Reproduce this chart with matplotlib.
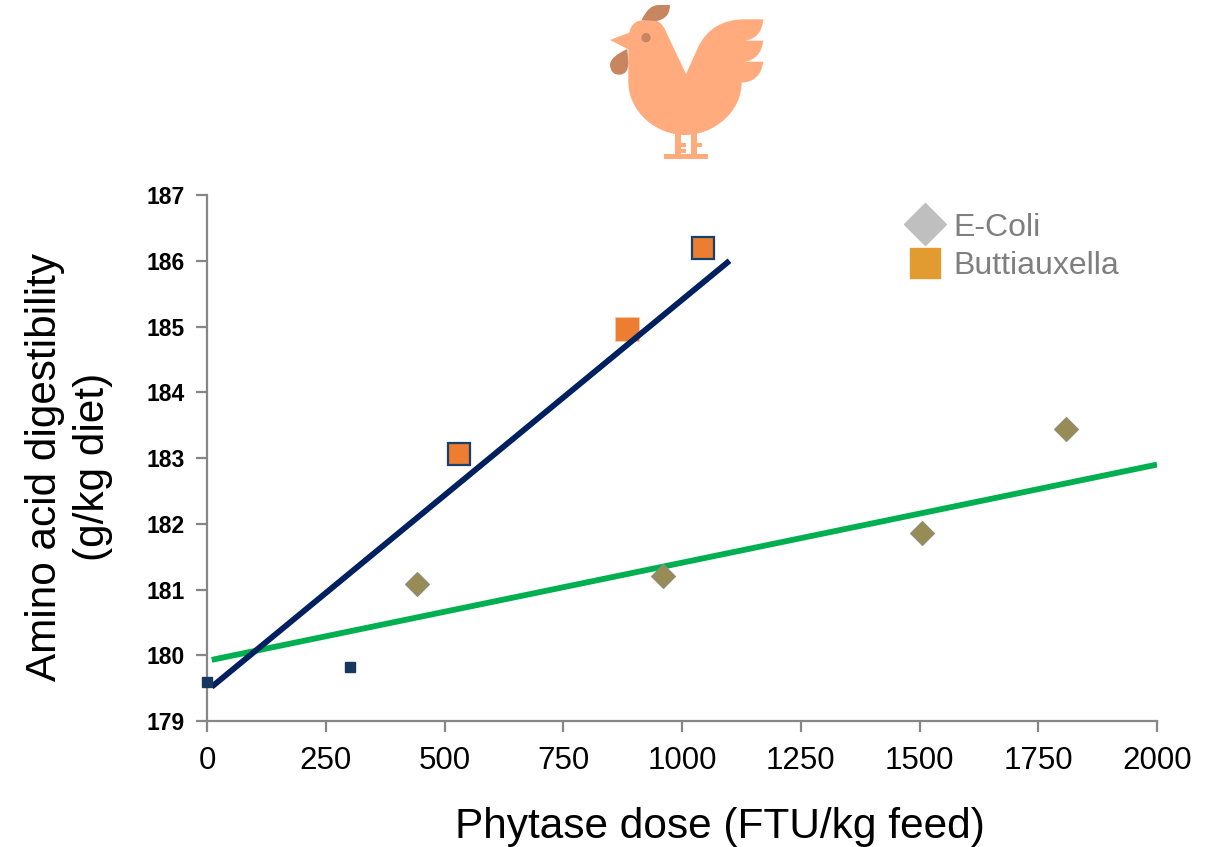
import matplotlib
matplotlib.use("Agg")
import matplotlib.pyplot as plt
from matplotlib.lines import Line2D
from matplotlib.path import Path
from matplotlib.patches import PathPatch, Rectangle, Circle

plt.rcParams['font.family'] = ['Liberation Sans', 'DejaVu Sans']

# Data
ecoli_dose = [442, 960, 1505, 1808]
ecoli_aa = [181.08, 181.2, 181.86, 183.44]
butti_dose = [530, 1044]
butti_aa = [183.06, 186.19]
butti_noedge_dose = [884]
butti_noedge_aa = [184.96]
control_dose = [0, 300]
control_aa = [179.59, 179.82]
ecoli_fit_x = [10, 2000]
ecoli_fit_y = [179.93, 182.9]
butti_fit_x = [10, 1100]
butti_fit_y = [179.52, 186.0]
xticks = [0, 250, 500, 750, 1000, 1250, 1500, 1750, 2000]
yticks = [179, 180, 181, 182, 183, 184, 185, 186, 187]

W, H = 1217, 847
fig = plt.figure(figsize=(W / 100, H / 100), dpi=100)
ax = fig.add_axes([207 / W, 1 - 721 / H, 950 / W, 526 / H])

# Fit lines
ax.plot(ecoli_fit_x, ecoli_fit_y, color='#00B050', lw=4.2, solid_capstyle='butt', zorder=3)
ax.plot(butti_fit_x, butti_fit_y, color='#002060', lw=4.2, solid_capstyle='butt', zorder=3)

# Points
ax.plot(ecoli_dose, ecoli_aa, 'D', ms=12.5, mfc='#978C55', mec='#8E8E7A', mew=0.8, zorder=4)
ax.plot(control_dose, control_aa, 's', ms=7.5, mfc='#17375E', mec='#17375E', clip_on=False, zorder=5)
ax.plot(butti_dose, butti_aa, 's', ms=16, mfc='#ED7D31', mec='#17406B', mew=1.6, zorder=4)
ax.plot(butti_noedge_dose, butti_noedge_aa, 's', ms=17.5, mfc='#ED7D31', mec='#F8C9A8', mew=0.6, zorder=2)

ax.set_xlim(0, 2000)
ax.set_ylim(179, 187)
ax.set_xticks(xticks)
ax.set_yticks(yticks)
ax.tick_params(axis='x', length=8, width=1.6, color='#868686', labelsize=22.5, pad=10)
ax.tick_params(axis='y', length=8, width=1.6, color='#868686', labelsize=16.5, pad=8)
for lab in ax.get_yticklabels():
    lab.set_fontweight('bold')
ax.spines['top'].set_visible(False)
ax.spines['right'].set_visible(False)
for s in ['left', 'bottom']:
    ax.spines[s].set_color('#868686')
    ax.spines[s].set_linewidth(1.6)

ax.set_xlabel('Phytase dose (FTU/kg feed)', fontsize=30.5)
ax.xaxis.set_label_coords((720 - 207) / 950, -(827 - 721) / 526, transform=ax.transAxes)
ax.xaxis.label.set_va('center')
ax.set_ylabel('Amino acid digestibility\n(g/kg diet)', fontsize=30.4, linespacing=1.28, ha='center', va='center')
ax.yaxis.set_label_coords((69 - 207) / 950, (721 - 467) / 526, transform=ax.transAxes)

handles = [
    Line2D([], [], marker='D', ls='', ms=21.5, mfc='#BFBFBF', mec='#BFBFBF'),
    Line2D([], [], marker='s', ls='', ms=21, mfc='#E29B31', mec='#E29B31'),
]
leg = ax.legend(handles, ['E-Coli', 'Buttiauxella'], loc='upper left',
                bbox_to_anchor=((893 - 207) / 950, (721 - 212.5) / 526), frameon=False,
                fontsize=23, labelcolor='#7F7F7F', handletextpad=-0.12, labelspacing=0.26,
                borderpad=0, borderaxespad=0)

# Rooster icon, drawn in a pixel-sized overlay (units: 1/3 px from crop origin)
icon = fig.add_axes([590 / W, 1 - 170 / H, 190 / W, 170 / H])
icon.set_xlim(0, 570)
icon.set_ylim(510, 0)
icon.axis('off')
M, L, C3, C4, Z = Path.MOVETO, Path.LINETO, Path.CURVE3, Path.CURVE4, Path.CLOSEPOLY
body = [
    ((60, 120), M), ((118, 98), L),
    ((125, 60), C3), ((165, 60), C3), ((190, 60), L),
    ((215, 62), C3), ((228, 95), C3), ((288, 222), L), ((325, 140), L),
    ((352, 85), C4), ((400, 58), C4), ((465, 58), C4), ((520, 58), L),
    ((515, 115), C3), ((465, 122), C3), ((520, 122), L),
    ((512, 180), C3), ((462, 185), C3), ((520, 185), L),
    ((512, 245), C3), ((455, 248), C3),
    ((455, 335), C4), ((372, 405), C4), ((285, 405), C4),
    ((198, 405), C4), ((115, 335), C4), ((115, 245), C4),
    ((115, 148), L), ((60, 120), L), ((60, 120), Z),
]
icon.add_patch(PathPatch(Path([p for p, _ in body], [c for _, c in body]), fc='#FFAB7E', ec='none'))
for x, y, w, h in [(255, 400, 18, 65), (302, 400, 18, 65), (223, 461, 130, 16),
                   (273, 428, 16, 12), (273, 446, 16, 12), (320, 428, 16, 14)]:
    icon.add_patch(Rectangle((x, y), w, h, fc='#FFAB7E', ec='none'))
comb = [((155, 60), M), ((175, 15), C3), ((205, 15), C3), ((240, 15), L),
        ((240, 55), C3), ((200, 63), C3), ((155, 60), L), ((155, 60), Z)]
icon.add_patch(PathPatch(Path([p for p, _ in comb], [c for _, c in comb]), fc='#C78560', ec='none'))
wattle = [((112, 147), M), ((60, 170), C3), ((60, 195), C3), ((62, 226), C3), ((90, 224), C3),
          ((115, 222), C3), ((115, 190), C3), ((112, 147), L), ((112, 147), Z)]
icon.add_patch(PathPatch(Path([p for p, _ in wattle], [c for _, c in wattle]), fc='#C78560', ec='none'))
icon.add_patch(Circle((168, 113), 14, fc='#C78560', ec='none'))

fig.savefig('out.png', dpi=100)
